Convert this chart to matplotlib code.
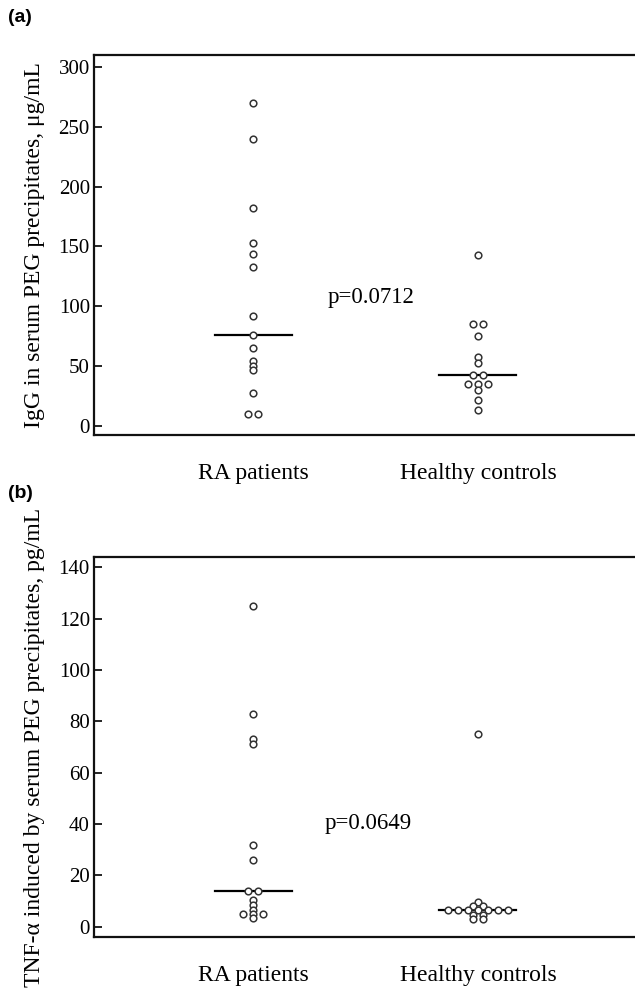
import numpy as np
import matplotlib
matplotlib.use("Agg")
import matplotlib.pyplot as plt

# ---------------- data ----------------
categories = ["RA patients", "Healthy controls"]

igg_ra = [270, 240, 182, 153, 144, 133, 92, 76, 65, 54, 50, 47, 28, 10, 10]
igg_hc = [143, 85, 85, 75, 58, 53, 42.6, 42.6, 34.8, 34.8, 34.8, 30, 21.7, 13.4]

tnf_ra = [125, 83, 73, 71, 32, 26, 14, 14, 10.5, 8.5, 6.5, 5, 5, 5, 3.3]
tnf_hc = [75, 9.5, 8, 8, 6.5, 6.5, 6.5, 6.5, 6.5, 6.5, 6.5, 4.5, 4.5, 3.2, 3.2]

p_a = "p=0.0712"
p_b = "p=0.0649"
ylabel_a = "IgG in serum PEG precipitates, \u03bcg/mL"
ylabel_b = "TNF-\u03b1 induced by serum PEG precipitates, pg/mL"
yticks_a = [0, 50, 100, 150, 200, 250, 300]
yticks_b = [0, 20, 40, 60, 80, 100, 120, 140]

# ---------------- style ----------------
W, H = 635, 996
DPI = 100
serif = ["Liberation Serif", "DejaVu Serif"]
XLIM = (0.293, 2.698)
px_per_unit = 541 / (XLIM[1] - XLIM[0])
SPACING = 10 / px_per_unit      # horizontal spacing of tied points
HALF_MED = 38.5 / px_per_unit   # half width of median bar


def swarm_offsets(vals):
    vals = list(vals)
    offs = np.zeros(len(vals))
    groups = {}
    for i, v in enumerate(vals):
        groups.setdefault(v, []).append(i)
    for v, idx in groups.items():
        n = len(idx)
        for k, i in enumerate(idx):
            offs[i] = (k - (n - 1) / 2) * SPACING
    return offs


fig = plt.figure(figsize=(W / DPI, H / DPI), dpi=DPI)


def panel(rect, series, ylim, yticks, ylabel, ptext, ppos, letter, letter_y):
    ax = fig.add_axes(rect)
    for i, vals in enumerate(series):
        xpos = i + 1
        offs = swarm_offsets(vals)
        ax.plot(xpos + offs, vals, linestyle="none", marker="o",
                markersize=4.8, markerfacecolor="white",
                markeredgecolor="#333333", markeredgewidth=1.1, zorder=3)
        med = np.median(vals)
        ax.plot([xpos - HALF_MED, xpos + HALF_MED], [med, med],
                color="black", lw=1.6, zorder=2)
    ax.set_xlim(*XLIM)
    ax.set_ylim(*ylim)
    ax.set_yticks(yticks)
    ax.set_yticklabels([str(t) for t in yticks], family=serif, fontsize=15)
    ax.set_xticks([1, 2])
    ax.set_xticklabels(categories, family=serif, fontsize=17)
    ax.tick_params(axis="x", length=0, pad=20)
    ax.tick_params(axis="y", direction="in", length=6, width=1.2, pad=3)
    ax.spines["right"].set_visible(False)
    for s in ("left", "top", "bottom"):
        ax.spines[s].set_linewidth(1.6)
        ax.spines[s].set_color("#111111")
    ax.set_ylabel(ylabel, family=serif, fontsize=17, labelpad=10)
    ax.text(ppos[0], ppos[1], ptext, family=serif, fontsize=16.5,
            ha="center", va="center")
    fig.text(8 / W, 1 - letter_y / H, letter, family=["Liberation Sans", "DejaVu Sans"],
             fontsize=14, fontweight="bold", ha="left", va="center")
    return ax


left = 94 / W
width = 1 - left
panel([left, 1 - 435 / H, width, 380 / H], [igg_ra, igg_hc], (-7.5, 310),
      yticks_a, ylabel_a, p_a, (1.524, 107.8), "(a)", 18)
panel([left, 1 - 937 / H, width, 380 / H], [tnf_ra, tnf_hc], (-4, 144),
      yticks_b, ylabel_b, p_b, (1.51, 40.3), "(b)", 493)

fig.savefig("out.png", dpi=DPI)
